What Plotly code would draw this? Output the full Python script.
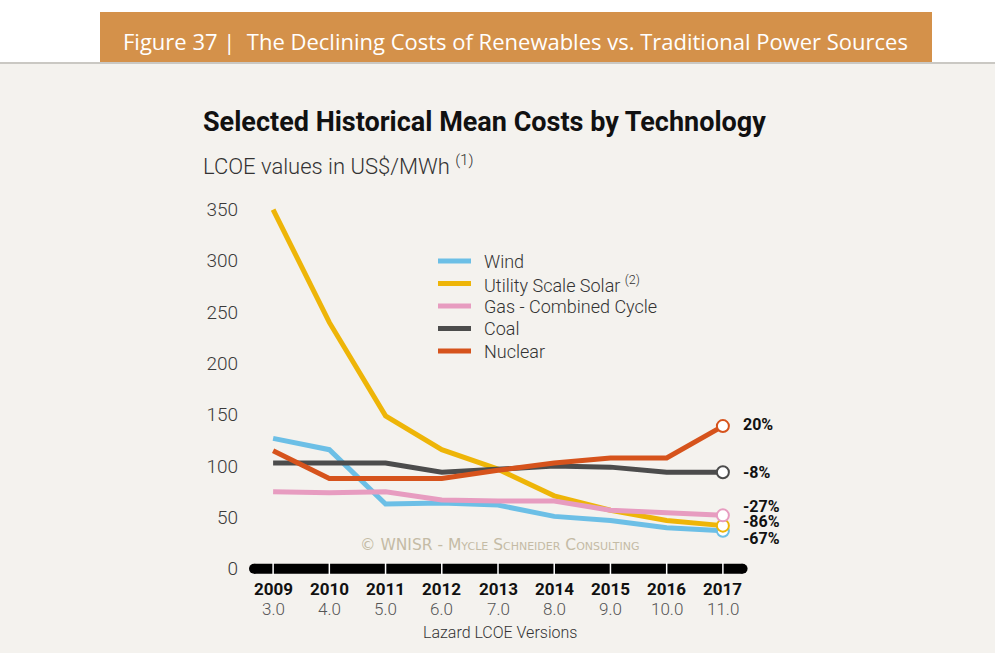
import plotly.graph_objects as go

# Lazard LCOE report years and version numbers
years = [2009, 2010, 2011, 2012, 2013, 2014, 2015, 2016, 2017]
versions = ["3.0", "4.0", "5.0", "6.0", "7.0", "8.0", "9.0", "10.0", "11.0"]

# Mean LCOE, US$/MWh
wind = [127, 116, 63, 64, 62, 51, 47, 40, 37]
solar = [350, 240, 149, 116, 97, 71, 57, 47, 42]
gas_cc = [75, 74, 75, 67, 66, 66, 57, 55, 52]
coal = [103, 103, 103, 94, 97, 100, 99, 94, 94]
nuclear = [115, 88, 88, 88, 96, 103, 108, 108, 139]

# Change 2009 -> 2017 as labelled on the right
change_labels = ["20%", "-8%", "-27%", "-86%", "-67%"]
change_label_y = [141, 94, 61, 46, 29]

y_ticks = [0, 50, 100, 150, 200, 250, 300, 350]

series = [
    ("Wind", wind, "#6cbfe6"),
    ("Utility Scale Solar <sup>(2)</sup>", solar, "#eeb508"),
    ("Gas - Combined Cycle", gas_cc, "#e79cc0"),
    ("Coal", coal, "#4c4c4c"),
    ("Nuclear", nuclear, "#d6531c"),
]

W, H = 995, 653
M_L, M_R, M_T, M_B = 245, 244, 189, 74
X_RANGE = [2008.5, 2017.5]
Y_RANGE = [-10, 370]
PW, PH = W - M_L - M_R, H - M_T - M_B


def px_x(px):
    return (px - M_L) / PW


def px_y(py):
    return (H - M_B - py) / PH


BG = "#f4f2ee"
TXT = "#333333"
FONT = "Roboto"

fig = go.Figure()

# thick black baseline with rounded ends
fig.add_trace(go.Scatter(
    x=[2008.66, 2017.35], y=[0, 0], mode="lines+markers",
    line=dict(color="black", width=10), marker=dict(color="black", size=10),
    showlegend=False, hoverinfo="skip", cliponaxis=False))
# white tick notches on the baseline
fig.add_trace(go.Scatter(
    x=years, y=[0] * len(years), mode="markers",
    marker=dict(symbol="line-ns", size=9, line=dict(color="white", width=1.5)),
    showlegend=False, hoverinfo="skip", cliponaxis=False))

for name, vals, color in series:
    fig.add_trace(go.Scatter(
        x=years, y=vals, mode="lines", name=name, showlegend=False,
        line=dict(color=color, width=5), cliponaxis=False))

# open circles at the 2017 end of each line
for name, vals, color in series:
    fig.add_trace(go.Scatter(
        x=[years[-1]], y=[vals[-1]], mode="markers", showlegend=False,
        marker=dict(size=12, color="white", line=dict(color=color, width=2)),
        cliponaxis=False, hoverinfo="skip"))

annotations = []
shapes = [
    dict(type="rect", xref="paper", yref="paper",
         x0=px_x(0), x1=px_x(W), y0=px_y(0), y1=px_y(62),
         fillcolor="white", line=dict(width=0), layer="below"),
    dict(type="rect", xref="paper", yref="paper",
         x0=px_x(100), x1=px_x(932), y0=px_y(12), y1=px_y(62),
         fillcolor="#d4914a", line=dict(width=0), layer="below"),
    dict(type="line", xref="paper", yref="paper",
         x0=px_x(0), x1=px_x(W), y0=px_y(63), y1=px_y(63),
         line=dict(color="#bdbab4", width=1.5), layer="below"),
]

# legend: short colour bar + label per series
for i, (name, vals, color) in enumerate(series):
    row_y = 261 + 22.5 * i
    shapes.append(dict(type="line", xref="paper", yref="paper",
                       x0=px_x(438), x1=px_x(471), y0=px_y(row_y), y1=px_y(row_y),
                       line=dict(color=color, width=5)))
    annotations.append(dict(x=px_x(482), y=px_y(row_y), xref="paper", yref="paper",
                            text=name, showarrow=False, xanchor="left", yanchor="middle",
                            font=dict(family=FONT, size=18, color=TXT, weight=300)))

for lab, yv in zip(change_labels, change_label_y):
    annotations.append(dict(
        x=2017.33, y=yv, xref="x", yref="y", text=f"<b>{lab}</b>",
        showarrow=False, xanchor="left", yanchor="middle",
        font=dict(family=FONT, size=16, color="#111111")))

# year and Lazard version number under each tick
for yr, v in zip(years, versions):
    annotations.append(dict(
        x=yr, y=px_y(589), xref="x", yref="paper", text=f"<b>{yr}</b>",
        showarrow=False, xanchor="center", yanchor="middle",
        font=dict(family=FONT, size=17, color="#111111")))
    annotations.append(dict(
        x=yr, y=px_y(609), xref="x", yref="paper", text=v,
        showarrow=False, xanchor="center", yanchor="middle",
        font=dict(family=FONT, size=17, color="#555555", weight=300)))

annotations += [
    dict(x=px_x(515), y=px_y(41), xref="paper", yref="paper",
         text="Figure 37 |  The Declining Costs of Renewables vs. Traditional Power Sources",
         showarrow=False, xanchor="center", yanchor="middle",
         font=dict(family="Open Sans", size=22, color="white")),
    dict(x=px_x(201), y=px_y(122), xref="paper", yref="paper",
         text="<b>Selected Historical Mean Costs by Technology</b>",
         showarrow=False, xanchor="left", yanchor="middle",
         font=dict(family=FONT, size=27, color="#111111")),
    dict(x=px_x(201), y=px_y(165), xref="paper", yref="paper",
         text="LCOE values in US$/MWh <sup>(1)</sup>",
         showarrow=False, xanchor="left", yanchor="middle",
         font=dict(family=FONT, size=22, color=TXT, weight=300)),
    dict(x=px_x(499), y=px_y(545), xref="paper", yref="paper",
         text="© WNISR - Mycle Schneider Consulting",
         showarrow=False, xanchor="center", yanchor="middle",
         font=dict(family="DejaVu Sans", size=15.5, color="#c4bba5", variant="small-caps")),
    dict(x=px_x(500), y=px_y(632), xref="paper", yref="paper",
         text="Lazard LCOE Versions", showarrow=False,
         xanchor="center", yanchor="middle",
         font=dict(family=FONT, size=16, color=TXT, weight=300)),
]

fig.update_layout(
    width=W, height=H,
    margin=dict(l=M_L, r=M_R, t=M_T, b=M_B),
    paper_bgcolor=BG, plot_bgcolor=BG,
    font=dict(family=FONT, color=TXT),
    showlegend=False,
    xaxis=dict(range=X_RANGE, showgrid=False, zeroline=False, showline=False,
               tickmode="array", tickvals=years, showticklabels=False, ticks=""),
    yaxis=dict(range=Y_RANGE, showgrid=False, zeroline=False, showline=False,
               tickmode="array", tickvals=y_ticks, ticks="", ticklabelstandoff=6,
               tickfont=dict(family=FONT, size=19, color="#3a3a3a", weight=300)),
    annotations=annotations, shapes=shapes,
)

fig.write_html("out.html")
